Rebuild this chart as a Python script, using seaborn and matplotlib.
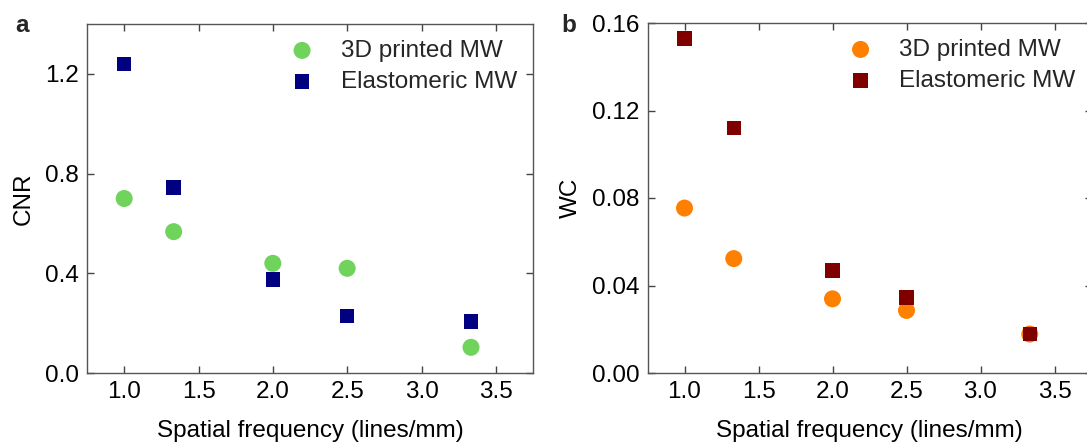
import matplotlib
matplotlib.use("Agg")
import matplotlib.pyplot as plt
import seaborn as sns
import pandas as pd

# ---- data ----
freq = [1.0, 1.333, 2.0, 2.5, 3.333]
cnr_printed = [0.70, 0.567, 0.44, 0.42, 0.103]
cnr_elasto = [1.24, 0.745, 0.376, 0.228, 0.207]
wc_printed = [0.0754, 0.0523, 0.0339, 0.0286, 0.0178]
wc_elasto = [0.1529, 0.1120, 0.0469, 0.0344, 0.0179]
series_names = ["3D printed MW", "Elastomeric MW"]
xticks = [1.0, 1.5, 2.0, 2.5, 3.0, 3.5]
cnr_ticks = [0.0, 0.4, 0.8, 1.2]
wc_ticks = [0.00, 0.04, 0.08, 0.12, 0.16]

sns.set_theme(style="ticks")
plt.rcParams["font.family"] = ["Liberation Sans", "DejaVu Sans"]
FS = 17.5

fig = plt.figure(figsize=(10.87, 4.43), dpi=100)
axL = fig.add_axes([87/1087, 70/443, 446/1087, 349/443])
axR = fig.add_axes([647.5/1087, 70/443, 444/1087, 350/443])

def panel(ax, yp, ye, c1, c2, ylim, yticks, fmt, ylabel):
    d1 = pd.DataFrame({"x": freq, "y": yp})
    d2 = pd.DataFrame({"x": freq, "y": ye})
    sns.scatterplot(data=d1, x="x", y="y", ax=ax, color=c1, marker="o", s=150,
                    edgecolor="none", label=series_names[0], zorder=3)
    sns.scatterplot(data=d2, x="x", y="y", ax=ax, color=c2, marker="s", s=110,
                    edgecolor="none", label=series_names[1], zorder=4)
    ax.set_xlim(0.75, 3.75)
    ax.set_ylim(*ylim)
    ax.set_xticks(xticks)
    ax.set_xticklabels([f"{t:.1f}" for t in xticks])
    ax.set_yticks(yticks)
    ax.set_yticklabels([fmt.format(t) for t in yticks])
    ax.tick_params(direction="in", length=5, width=1, color="#444444",
                   top=True, right=True, labelsize=FS, pad=6, labelcolor="black")
    for sp in ax.spines.values():
        sp.set_color("#555555")
        sp.set_linewidth(1.0)
    ax.set_xlabel("Spatial frequency (lines/mm)", fontsize=FS, labelpad=12,
                  color="black")
    ax.set_ylabel(ylabel, fontsize=FS, labelpad=7, color="black")
    ax.legend(loc="upper right", bbox_to_anchor=(1.0, 1.0), frameon=False,
              fontsize=FS, handletextpad=0.6, labelspacing=0.38,
              borderaxespad=0.25, markerscale=1.0)

panel(axL, cnr_printed, cnr_elasto, "#6fd35c", "#000080", (0, 1.4), cnr_ticks,
      "{:.1f}", "CNR")
panel(axR, wc_printed, wc_elasto, "#ff8000", "#800000", (0, 0.16), wc_ticks,
      "{:.2f}", "WC")

fig.text(15/1087, 1 - 32/443, "a", fontsize=17.5, fontweight="bold", va="baseline")
fig.text(561/1087, 1 - 32/443, "b", fontsize=17.5, fontweight="bold", va="baseline")

fig.savefig("out.png", dpi=100)
